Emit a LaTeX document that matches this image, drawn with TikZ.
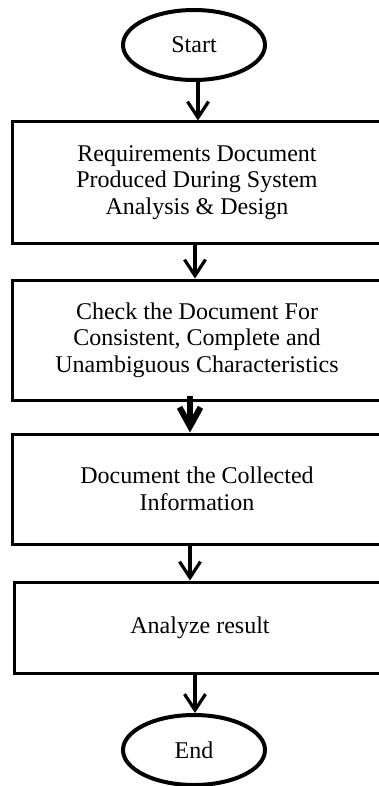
\documentclass[tikz,border=0pt]{standalone}
\usepackage{fontspec}
\setmainfont{Liberation Serif}
\usepackage{tikz}
\usetikzlibrary{shapes.geometric,arrows.meta}
\tikzset{>={Straight Barb[length=8pt,width=10.5pt]}}
\tikzset{
    terminal/.style={ellipse,draw,line width=2pt,minimum width=71pt,minimum height=35pt,inner sep=0pt},
    process/.style={rectangle,draw,line width=1.5pt,minimum width=185pt,inner sep=0pt,align=center},
    flow/.style={->,line width=1.6pt},
    heavyflow/.style={-{Straight Barb[length=9.5pt,width=10.5pt]},line width=3pt}
}

\begin{document}
\begin{tikzpicture}[x=0.5pt,y=-0.5pt,font=\fontsize{12}{13.3}\selectfont]
            \useasboundingbox (0,0) rectangle (379,786);
            \node[terminal] (start) at (194,45){Start};
            \node[process,minimum height=60.5pt] (req) at (197,182.5){Requirements Document\\Produced During System\\Analysis \& Design};
            \node[process,minimum height=60pt] (chk) at (197,340){Check the Document For\\Consistent, Complete and\\Unambiguous Characteristics};
            \node[process,minimum height=55pt] (doc) at (197,489){Document the Collected\\Information};
            \node[process,minimum height=45.5pt,minimum width=186pt] (ana) at (200,627.5){Analyze result};
            \node[terminal] (end) at (194,750){End};
            \draw[flow] ([xshift=2pt]start.south) -- ([xshift=0.5pt]req.north);
            \draw[flow] ([xshift=-1pt]req.south) -- ([xshift=-1pt]chk.north);
            \draw[heavyflow] ([xshift=-3.5pt,yshift=3pt]chk.south) -- ([xshift=-3.5pt]doc.north);
            \draw[flow] ([xshift=-3.5pt]doc.south) -- ([xshift=-5pt]ana.north);
            \draw[flow] ([xshift=-2.5pt]ana.south) -- ([xshift=0.5pt]end.north);
\end{tikzpicture}
\end{document}
